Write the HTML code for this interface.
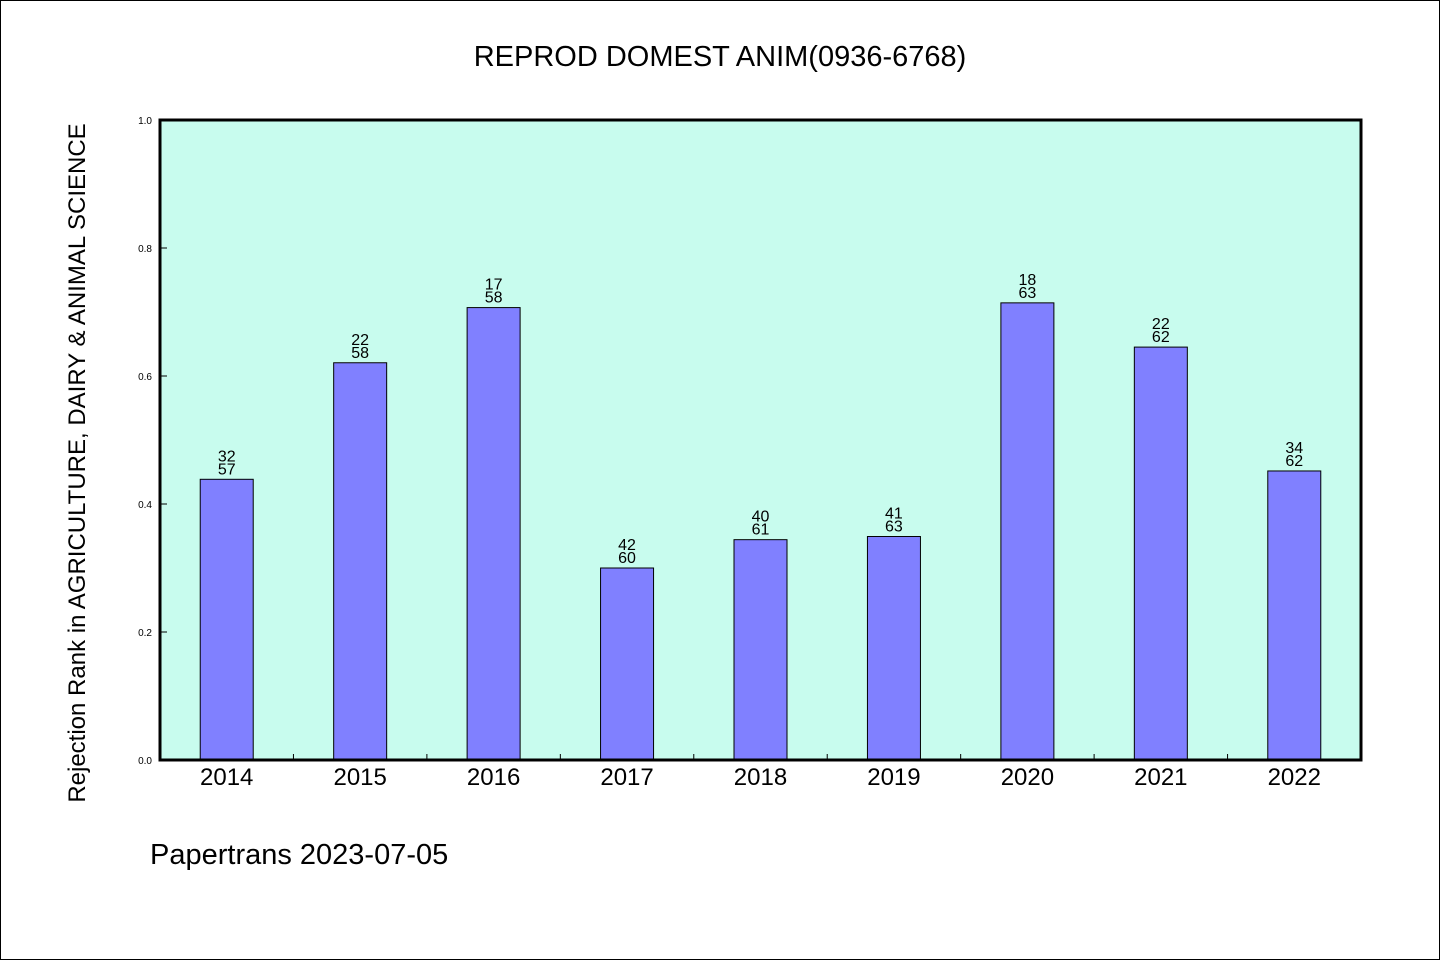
<!DOCTYPE html>
<html><head><meta charset="utf-8"><style>
html,body{margin:0;padding:0;background:#fff}
svg{display:block}
text{font-family:"WenQuanYi Zen Hei","Liberation Sans",sans-serif;fill:#000}
</style></head><body>
<svg id="chart" width="1440" height="960" viewBox="0 0 1440 960">
<rect x="0.5" y="0.5" width="1439" height="959" fill="#fff" stroke="#000" stroke-width="1"/>
<text x="720" y="66" font-size="29" text-anchor="middle">REPROD DOMEST ANIM(0936-6768)</text>
<rect x="160" y="120" width="1201" height="640" fill="#c8fcee"/>
<g id="yticks"></g>
<g id="bars"></g>
<g id="xticks"></g>
<rect x="160" y="120" width="1201" height="640" fill="none" stroke="#000" stroke-width="3"/>
<text transform="translate(85,463) rotate(-90)" font-size="24" text-anchor="middle">Rejection Rank in AGRICULTURE, DAIRY &amp; ANIMAL SCIENCE</text>
<text x="150" y="864" font-size="29">Papertrans 2023-07-05</text>
</svg>
<script>
const categories = ["2014","2015","2016","2017","2018","2019","2020","2021","2022"];
const ranks = [32,22,17,42,40,41,18,22,34];
const totals = [57,58,58,60,61,63,63,62,62];
const yTickLabels = ["0.0","0.2","0.4","0.6","0.8","1.0"];
const yTickValues = [0,0.2,0.4,0.6,0.8,1.0];

const NS="http://www.w3.org/2000/svg";
const X0=160,X1=1361,Y0=760,Y1=120;
const band=(X1-X0)/categories.length;
const xCenter=i=>X0+band*(i+0.5);
const yScale=v=>Y0-(Y0-Y1)*v;
function mk(tag,attrs,parent){const e=document.createElementNS(NS,tag);for(const k in attrs)e.setAttribute(k,attrs[k]);parent.appendChild(e);return e;}
const gy=document.getElementById('yticks'),gb=document.getElementById('bars'),gx=document.getElementById('xticks');
yTickValues.forEach((v,i)=>{
  const y=yScale(v);
  const t=mk('text',{x:152,y:y+4,'font-size':10,'text-anchor':'end'},gy);
  
  
  t.textContent=yTickLabels[i];
  const l=mk('line',{x1:160,x2:167,y1:y,y2:y,stroke:'#000','stroke-width':1},gy);
  
  
});
categories.forEach((c,i)=>{
  const v=1-ranks[i]/totals[i];
  const cx=xCenter(i),w=53,y=yScale(v);
  const r=mk('rect',{x:cx-w/2,y:y,width:w,height:Y0-y,fill:'#8080ff',stroke:'#000','stroke-width':1},gb);
  
  
  const t1=mk('text',{x:cx,y:y-18,'font-size':16,'text-anchor':'middle'},gb);
  
  
  t1.textContent=ranks[i];
  const t2=mk('text',{x:cx,y:y-5,'font-size':16,'text-anchor':'middle'},gb);
  
  
  t2.textContent=totals[i];
  const xl=mk('text',{x:cx,y:785,'font-size':24,'text-anchor':'middle'},gx);
  
  
  xl.textContent=c;
  if(i>0){
    const bx=X0+band*i;
    const tk=mk('line',{x1:bx,x2:bx,y1:754,y2:760,stroke:'#000','stroke-width':1},gx);
    
    
  }
});
</script>
</body></html>
